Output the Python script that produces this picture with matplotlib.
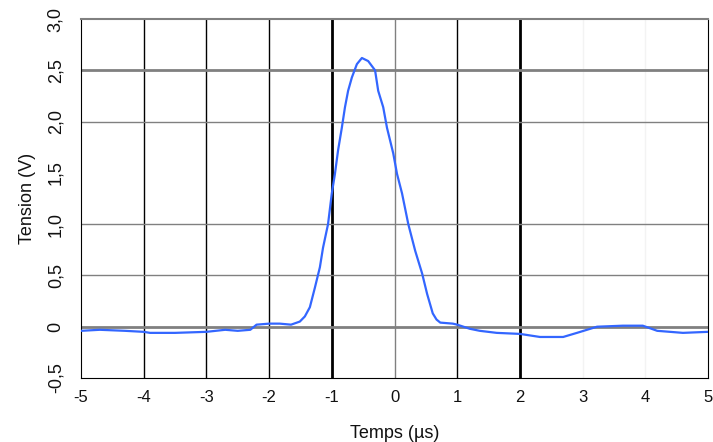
import matplotlib
matplotlib.use('Agg')
import matplotlib.pyplot as plt

# curve (time in µs, voltage in V)
temps = [-5.0, -4.7, -4.3, -4.0, -3.9, -3.5, -3.0, -2.7, -2.5, -2.3, -2.2,
         -2.0, -1.83, -1.65, -1.51, -1.43, -1.35, -1.27, -1.19, -1.14, -1.06,
         -1.0, -0.95, -0.90, -0.84, -0.79, -0.74, -0.68, -0.60, -0.52, -0.42,
         -0.31, -0.26, -0.18, -0.12, -0.02, 0.04, 0.12, 0.22, 0.33, 0.44,
         0.52, 0.61, 0.67, 0.73, 0.93, 1.0, 1.2, 1.36, 1.63, 2.0, 2.32, 2.69,
         2.91, 3.23, 3.64, 3.96, 4.19, 4.6, 5.0]
tension = [-0.04, -0.03, -0.04, -0.05, -0.06, -0.06, -0.05, -0.03, -0.04, -0.03, 0.02,
           0.03, 0.03, 0.02, 0.05, 0.10, 0.19, 0.38, 0.58, 0.77, 1.0,
           1.30, 1.49, 1.72, 1.94, 2.14, 2.30, 2.43, 2.56, 2.62, 2.59,
           2.50, 2.30, 2.14, 1.94, 1.69, 1.49, 1.30, 1.0, 0.74, 0.52,
           0.32, 0.13, 0.07, 0.04, 0.03, 0.02, -0.02, -0.04, -0.06, -0.07, -0.10, -0.10,
           -0.06, 0.0, 0.01, 0.01, -0.04, -0.06, -0.05]

xticks = [-5, -4, -3, -2, -1, 0, 1, 2, 3, 4, 5]
yticks = [-0.5, 0, 0.5, 1.0, 1.5, 2.0, 2.5, 3.0]
ylabels = ['-0,5', '0', '0,5', '1,0', '1,5', '2,0', '2,5', '3,0']

plt.rcParams['font.family'] = ['Liberation Sans', 'DejaVu Sans']

fig = plt.figure(figsize=(7.13, 4.42), dpi=100)
ax = fig.add_axes([0.1136, 0.1448, 0.8794, 0.8122])

# vertical lines: black, some thick, some gray or nearly invisible
vstyle = {-4: ('black', 1), -3: ('black', 1), -2: ('black', 1), -1: ('black', 2),
          0: ('#808080', 1), 1: ('black', 1), 2: ('black', 2),
          3: ('#f3f3f3', 1), 4: ('#f3f3f3', 1)}
for x, (c, w) in vstyle.items():
    ax.axvline(x, color=c, lw=w, zorder=1)

# horizontal lines (no line at 1,5 in the original)
for y in [0.5, 1.0, 2.0]:
    ax.axhline(y, color='#808080', lw=1, zorder=1)
for y in [0, 2.5]:
    ax.axhline(y, color='#808080', lw=2, zorder=1)

ax.plot(temps, tension, color='#3366ff', lw=1.6, zorder=3)

ax.set_xlim(-5, 5)
ax.set_ylim(-0.5, 3.0)
ax.set_xticks(xticks)
ax.set_xticklabels([str(t) for t in xticks])
ax.set_yticks(yticks)
ax.set_yticklabels(ylabels, rotation=90, va='center')
ax.tick_params(length=0, labelsize=12, colors='#111111')
ax.tick_params(axis='y', labelsize=13, pad=12)
ax.tick_params(axis='x', pad=9)

ax.spines['left'].set_color('black')
ax.spines['right'].set_color('black')
ax.spines['bottom'].set_color('black')
ax.spines['top'].set_color('#808080')
ax.spines['top'].set_linewidth(1.5)

ax.set_xlabel('Temps (µs)', fontsize=13, color='#111111', labelpad=14)
ax.set_ylabel('Tension (V)', fontsize=13, color='#111111', labelpad=8)

fig.savefig('out.png', dpi=100)
